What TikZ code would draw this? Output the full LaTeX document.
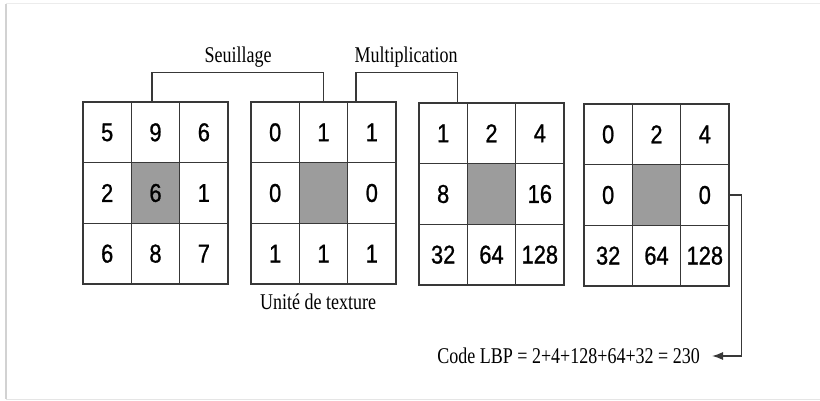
\documentclass[tikz,border=0pt]{standalone}
\usepackage{fontspec}
\setmainfont{Liberation Serif}
\newfontfamily\numfont[FakeBold=1]{Liberation Sans}
\usetikzlibrary{arrows.meta,calc}
\definecolor{gridline}{HTML}{383838}
\definecolor{centerfill}{HTML}{9C9C9C}
\tikzset{
  cell/.style={draw=gridline, line width=1.5pt, minimum width=48.33pt, minimum height=60.67pt,
    inner sep=0pt, font=\numfont\fontsize{23}{26}\selectfont, fill=white},
  centercell/.style={cell, fill=centerfill},
  lbl/.style={font=\fontsize{18}{20}\selectfont, inner sep=1pt},
  conn/.style={draw=gridline, line width=1.3pt},
}
\newcommand{\stretchlbl}[1]{\scalebox{1}[1.25]{#1}}
\newcommand{\stretchnum}[1]{\scalebox{0.95}[1.12]{#1}}
\begin{document}
\begin{tikzpicture}[x=1pt,y=-1pt]
\useasboundingbox (0,0) rectangle (820,401);
% faint frame
\draw[gray!35, line width=2pt] (6,4) -- (6,399);
\draw[gray!15, line width=1pt] (6,4) -- (820,4);
\draw[gray!20, line width=1pt] (6,399) -- (820,399);
% grids
\def\cw{48.33}
\def\ch{60.67}
\foreach \g/\gx/\gy/\vals in {
  1/83/102/{5,9,6,2,6,1,6,8,7},
  2/251/102/{0,1,1,0,,0,1,1,1},
  3/419/103/{1,2,4,8,,16,32,64,128},
  4/584/104/{0,2,4,0,,0,32,64,128}}{
  \foreach \v [count=\k from 0] in \vals {
    \pgfmathtruncatemacro{\r}{int(\k/3)+1}
    \pgfmathtruncatemacro{\c}{mod(\k,3)+1}
    \pgfmathsetmacro{\px}{\gx+(\c-0.5)*\cw}
    \pgfmathsetmacro{\py}{\gy+(\r-0.5)*\ch}
    \ifnum\k=4
      \node[centercell] (g\g-\r-\c) at (\px,\py) {\stretchnum{\v}};
    \else
      \node[cell] (g\g-\r-\c) at (\px,\py) {\stretchnum{\v}};
    \fi
  }
}
% labels
\node[lbl] (seuil) at (238,57) {\stretchlbl{Seuillage}};
\node[lbl] (multi) at (406,57) {\stretchlbl{Multiplication}};
\node[lbl] (unite) at (318,302) {\stretchlbl{Unité de texture}};
\node[lbl, anchor=east] (code) at (701,356) {\stretchlbl{Code LBP = 2+4+128+64+32 = 230}};
% brackets
\coordinate (sL) at ([xshift=-3.5pt]g1-1-2.north);
\coordinate (sR) at (g2-1-2.north);
\draw[conn] (sL) -- ++(0,-29) -| (sR);
\coordinate (mL) at ([xshift=9pt]g2-1-3.north west);
\coordinate (mR) at ([xshift=14pt]g3-1-1.north);
\draw[conn] (mL) -- ++(0,-29) -| (mR);
% arrow to code
\draw[conn, -{Latex[length=11pt,width=8pt]}] (g4-2-3.east) -- ++(12,0) |- ([xshift=11pt]code.east);
\end{tikzpicture}
\end{document}
